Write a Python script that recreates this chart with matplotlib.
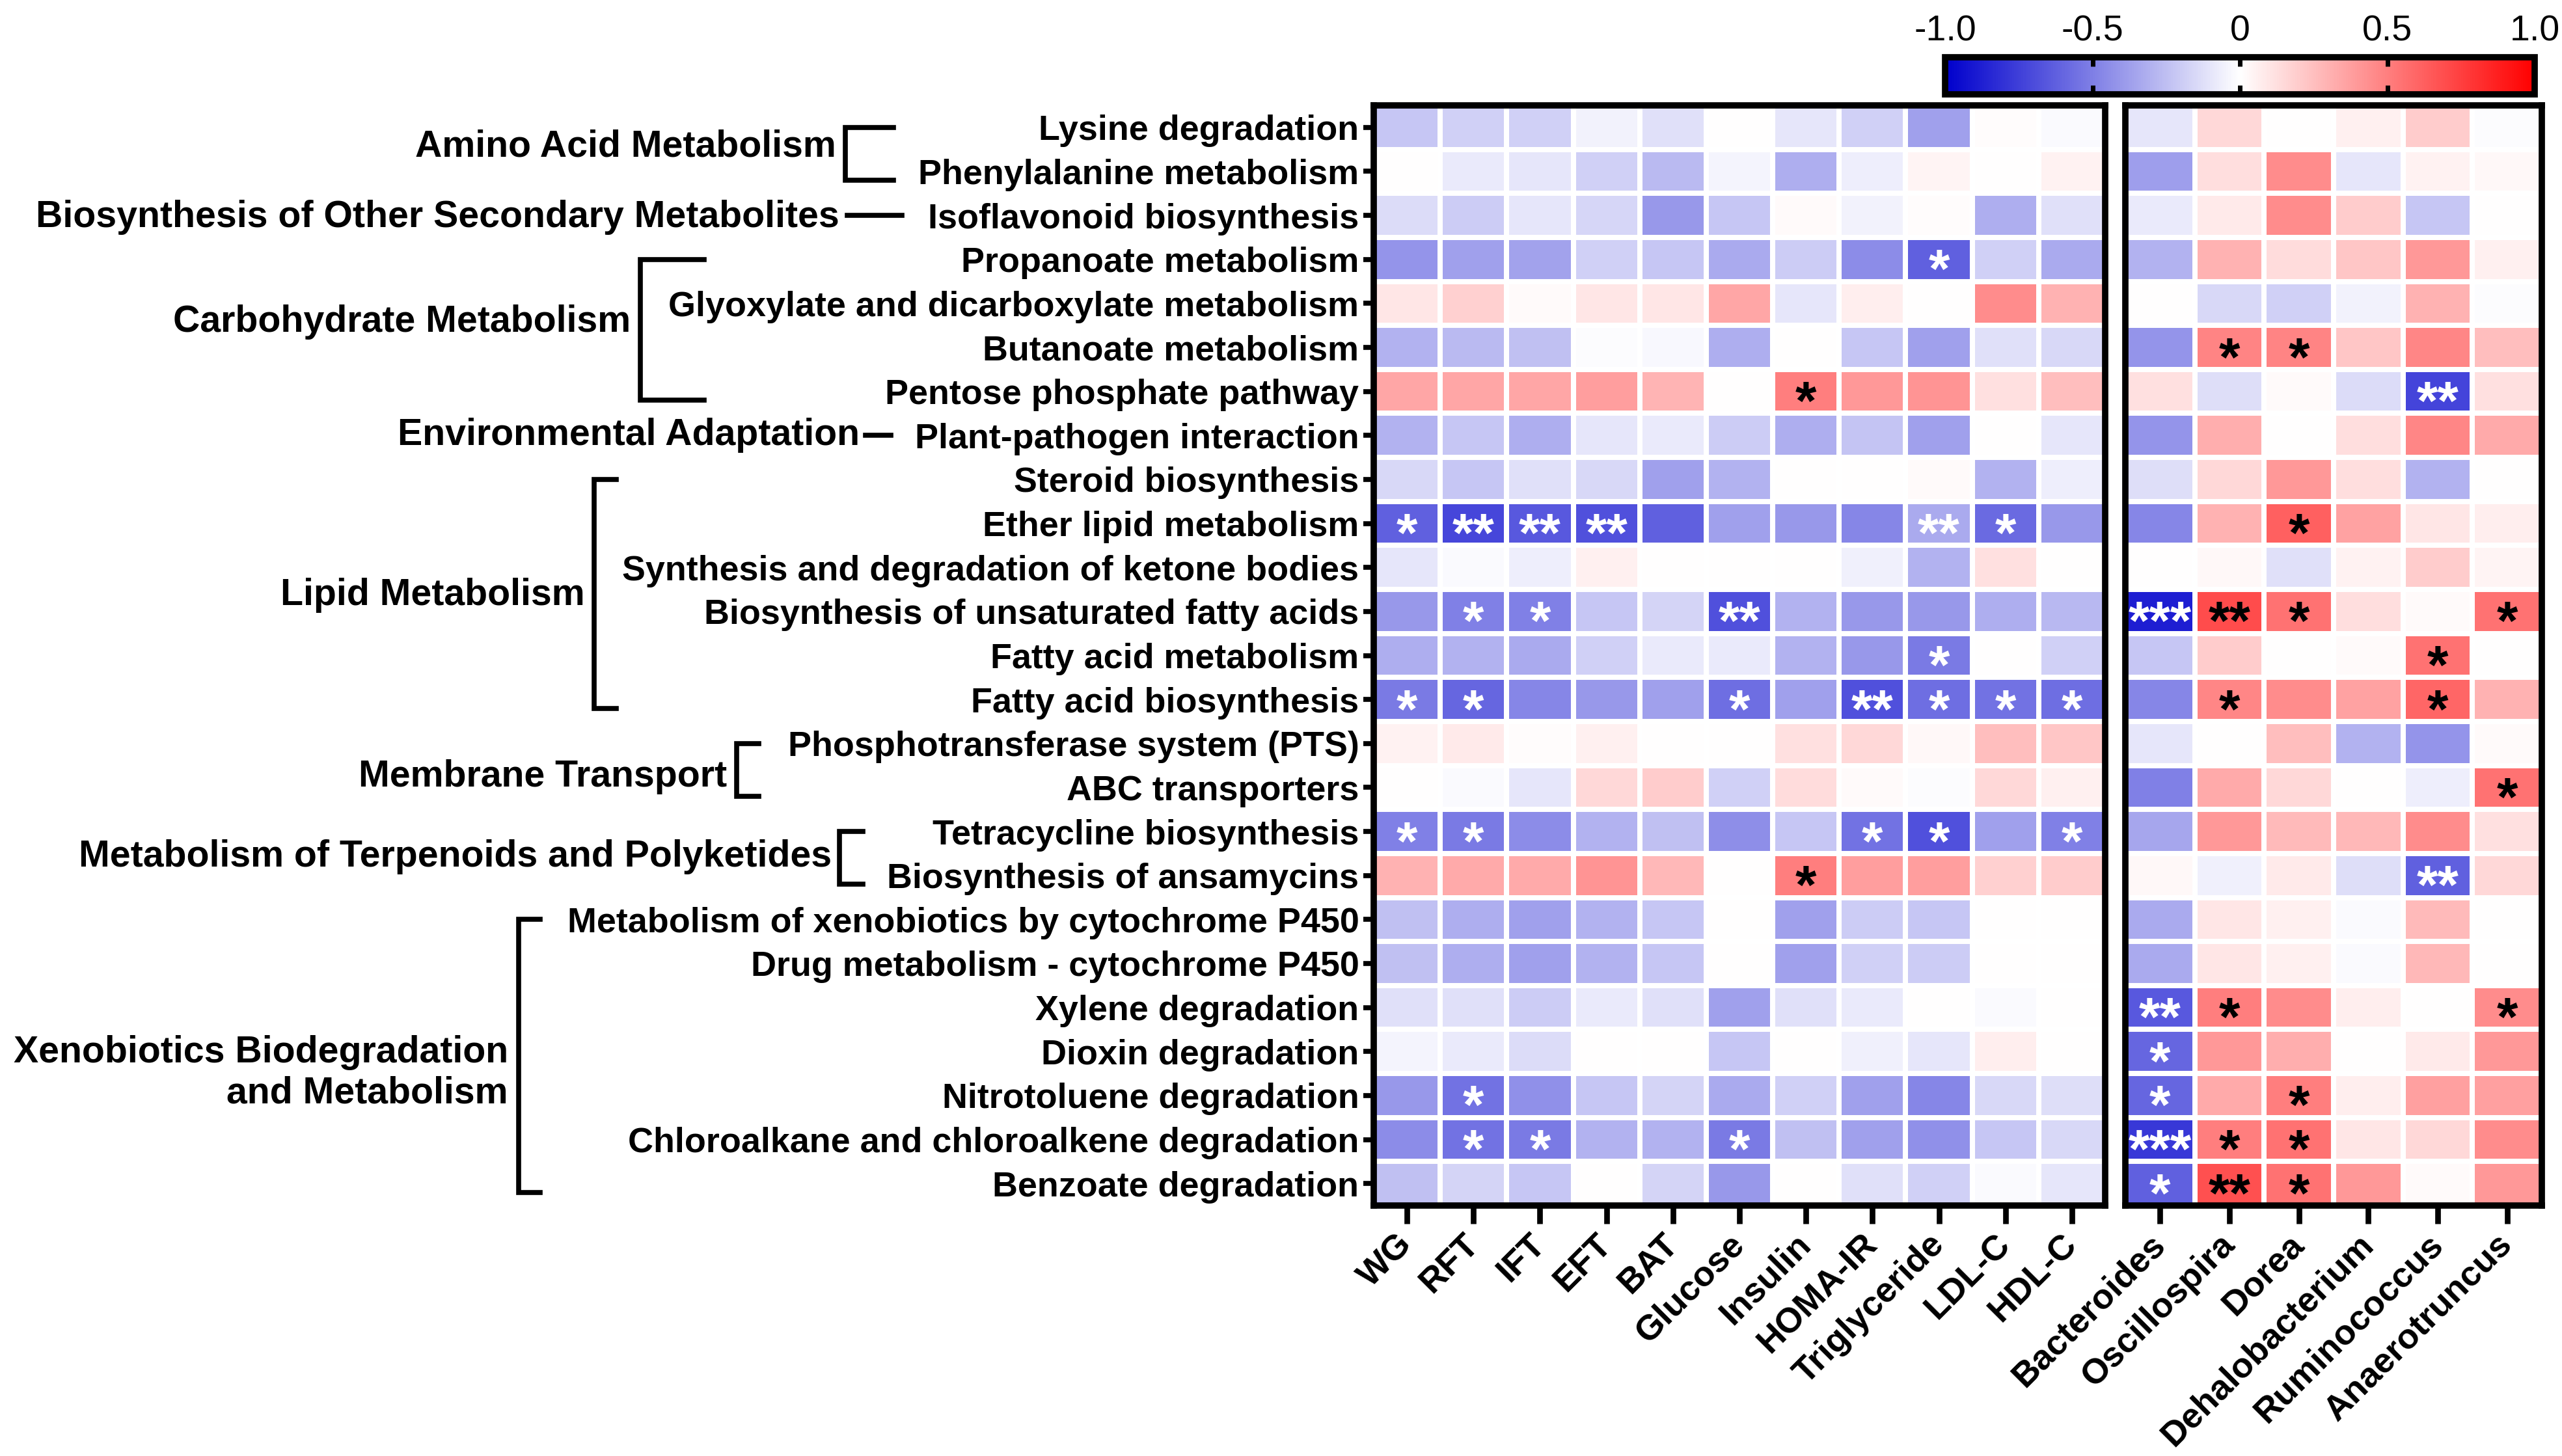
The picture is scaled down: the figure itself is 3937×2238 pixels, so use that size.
import matplotlib
matplotlib.use("Agg")
import matplotlib.pyplot as plt
import numpy as np
from matplotlib.colors import LinearSegmentedColormap
from matplotlib.lines import Line2D

plt.rcParams["font.family"] = ["Liberation Sans", "DejaVu Sans"]
plt.rcParams["font.weight"] = "bold"

# ---- data -------------------------------------------------------------
pathways = [
    "Lysine degradation", "Phenylalanine metabolism", "Isoflavonoid biosynthesis",
    "Propanoate metabolism", "Glyoxylate and dicarboxylate metabolism",
    "Butanoate metabolism", "Pentose phosphate pathway", "Plant-pathogen interaction",
    "Steroid biosynthesis", "Ether lipid metabolism",
    "Synthesis and degradation of ketone bodies",
    "Biosynthesis of unsaturated fatty acids", "Fatty acid metabolism",
    "Fatty acid biosynthesis", "Phosphotransferase system (PTS)", "ABC transporters",
    "Tetracycline biosynthesis", "Biosynthesis of ansamycins",
    "Metabolism of xenobiotics by cytochrome P450",
    "Drug metabolism - cytochrome P450", "Xylene degradation", "Dioxin degradation",
    "Nitrotoluene degradation", "Chloroalkane and chloroalkene degradation",
    "Benzoate degradation",
]

clinical = ["WG", "RFT", "IFT", "EFT", "BAT", "Glucose", "Insulin", "HOMA-IR",
            "Triglyceride", "LDL-C", "HDL-C"]
genera = ["Bacteroides", "Oscillospira", "Dorea", "Dehalobacterium",
          "Ruminococcus", "Anaerotruncus"]

# (category, first row, last row)
groups = [
    ("Amino Acid Metabolism", 0, 1),
    ("Biosynthesis of Other Secondary Metabolites", 2, 2),
    ("Carbohydrate Metabolism", 3, 6),
    ("Environmental Adaptation", 7, 7),
    ("Lipid Metabolism", 8, 13),
    ("Membrane Transport", 14, 15),
    ("Metabolism of Terpenoids and Polyketides", 16, 17),
    ("Xenobiotics Biodegradation\nand Metabolism", 18, 24),
]

clinical_r = np.array([
    [-0.22, -0.18, -0.18, -0.05, -0.12, 0.00, -0.10, -0.18, -0.37, 0.01, -0.02],
    [0.00, -0.08, -0.10, -0.18, -0.27, -0.04, -0.32, -0.07, 0.04, 0.00, 0.05],
    [-0.14, -0.20, -0.10, -0.16, -0.40, -0.22, 0.02, -0.05, 0.01, -0.32, -0.12],
    [-0.42, -0.37, -0.36, -0.18, -0.22, -0.33, -0.20, -0.45, -0.62, -0.18, -0.33],
    [0.10, 0.18, 0.02, 0.10, 0.10, 0.35, -0.10, 0.07, 0.00, 0.45, 0.30],
    [-0.30, -0.27, -0.25, -0.01, -0.03, -0.32, 0.00, -0.22, -0.37, -0.12, -0.15],
    [0.35, 0.35, 0.35, 0.38, 0.29, 0.00, 0.50, 0.40, 0.42, 0.12, 0.25],
    [-0.30, -0.22, -0.32, -0.10, -0.08, -0.20, -0.32, -0.23, -0.37, 0.00, -0.10],
    [-0.15, -0.22, -0.12, -0.15, -0.37, -0.30, 0.00, 0.00, 0.02, -0.30, -0.07],
    [-0.62, -0.72, -0.65, -0.68, -0.62, -0.37, -0.40, -0.47, -0.33, -0.58, -0.40],
    [-0.10, -0.02, -0.07, 0.06, 0.00, 0.00, 0.00, -0.06, -0.30, 0.12, 0.00],
    [-0.40, -0.50, -0.50, -0.22, -0.17, -0.68, -0.30, -0.40, -0.40, -0.32, -0.28],
    [-0.32, -0.30, -0.33, -0.18, -0.08, -0.08, -0.30, -0.40, -0.52, 0.00, -0.18],
    [-0.52, -0.60, -0.47, -0.40, -0.37, -0.57, -0.37, -0.68, -0.57, -0.55, -0.57],
    [0.05, 0.08, 0.01, 0.06, 0.00, 0.00, 0.12, 0.15, 0.03, 0.25, 0.22],
    [0.00, -0.02, -0.10, 0.15, 0.20, -0.18, 0.14, 0.02, -0.01, 0.15, 0.06],
    [-0.50, -0.52, -0.45, -0.30, -0.25, -0.44, -0.22, -0.55, -0.68, -0.37, -0.50],
    [0.30, 0.33, 0.33, 0.42, 0.28, 0.00, 0.50, 0.38, 0.38, 0.18, 0.20],
    [-0.25, -0.32, -0.37, -0.30, -0.22, 0.00, -0.37, -0.20, -0.22, 0.00, 0.00],
    [-0.25, -0.32, -0.37, -0.30, -0.22, 0.00, -0.37, -0.18, -0.20, 0.00, 0.00],
    [-0.12, -0.12, -0.20, -0.08, -0.12, -0.37, -0.12, -0.08, 0.00, -0.02, 0.00],
    [-0.04, -0.08, -0.14, 0.00, 0.00, -0.22, 0.00, -0.06, -0.10, 0.07, 0.00],
    [-0.40, -0.55, -0.43, -0.22, -0.17, -0.33, -0.18, -0.37, -0.47, -0.15, -0.13],
    [-0.45, -0.55, -0.52, -0.30, -0.30, -0.52, -0.25, -0.37, -0.43, -0.22, -0.15],
    [-0.25, -0.17, -0.22, 0.00, -0.17, -0.40, 0.00, -0.12, -0.18, -0.02, -0.10],
])

genera_r = np.array([
    [-0.10, 0.15, 0.00, 0.06, 0.20, -0.01],
    [-0.38, 0.13, 0.45, -0.10, 0.05, 0.03],
    [-0.08, 0.08, 0.45, 0.20, -0.22, 0.00],
    [-0.30, 0.30, 0.14, 0.22, 0.40, 0.06],
    [0.00, -0.15, -0.18, -0.05, 0.30, -0.01],
    [-0.42, 0.48, 0.48, 0.22, 0.47, 0.25],
    [0.12, -0.13, 0.02, -0.14, -0.73, 0.12],
    [-0.42, 0.32, 0.00, 0.13, 0.47, 0.33],
    [-0.13, 0.15, 0.40, 0.13, -0.30, 0.00],
    [-0.47, 0.30, 0.62, 0.36, 0.10, 0.07],
    [0.00, 0.03, -0.12, 0.05, 0.20, 0.04],
    [-0.88, 0.70, 0.55, 0.13, 0.02, 0.55],
    [-0.22, 0.20, 0.00, 0.02, 0.55, 0.00],
    [-0.47, 0.47, 0.45, 0.36, 0.60, 0.30],
    [-0.10, 0.00, 0.25, -0.30, -0.42, 0.02],
    [-0.50, 0.33, 0.15, 0.00, -0.07, 0.55],
    [-0.35, 0.40, 0.27, 0.28, 0.45, 0.12],
    [0.03, -0.06, 0.08, -0.13, -0.62, 0.15],
    [-0.33, 0.10, 0.06, -0.02, 0.27, 0.00],
    [-0.33, 0.10, 0.06, -0.02, 0.28, 0.00],
    [-0.65, 0.50, 0.45, 0.07, 0.00, 0.45],
    [-0.60, 0.40, 0.32, 0.00, 0.08, 0.40],
    [-0.60, 0.33, 0.50, 0.07, 0.37, 0.37],
    [-0.78, 0.50, 0.55, 0.10, 0.15, 0.45],
    [-0.62, 0.68, 0.55, 0.40, 0.02, 0.40],
])

# (row, column, mark)
clinical_sig = [
    (3, 8, "*"), (6, 6, "*"),
    (9, 0, "*"), (9, 1, "**"), (9, 2, "**"), (9, 3, "**"), (9, 8, "**"), (9, 9, "*"),
    (11, 1, "*"), (11, 2, "*"), (11, 5, "**"), (12, 8, "*"),
    (13, 0, "*"), (13, 1, "*"), (13, 5, "*"), (13, 7, "**"), (13, 8, "*"),
    (13, 9, "*"), (13, 10, "*"),
    (16, 0, "*"), (16, 1, "*"), (16, 7, "*"), (16, 8, "*"), (16, 10, "*"),
    (17, 6, "*"), (22, 1, "*"), (23, 1, "*"), (23, 2, "*"), (23, 5, "*"),
]
genera_sig = [
    (5, 1, "*"), (5, 2, "*"), (6, 4, "**"), (9, 2, "*"),
    (11, 0, "***"), (11, 1, "**"), (11, 2, "*"), (11, 5, "*"),
    (12, 4, "*"), (13, 1, "*"), (13, 4, "*"), (15, 5, "*"), (17, 4, "**"),
    (20, 0, "**"), (20, 1, "*"), (20, 5, "*"), (21, 0, "*"),
    (22, 0, "*"), (22, 2, "*"), (23, 0, "***"), (23, 1, "*"), (23, 2, "*"),
    (24, 0, "*"), (24, 1, "**"), (24, 2, "*"),
]

# ---- layout (pixels of the 3937 x 2238 canvas) -------------------------
W, H = 3937, 2238
DPI = 250
# bracket x, arm end x, label right edge x, label row position, for each group
bracket_px = [
    (1299, 1373, 1285, 0.44),
    (1302, 1386, 1290, 2.05),
    (984, 1082, 969, 4.42),
    (1330, 1369, 1321, 7.0),
    (913, 947, 899, 10.63),
    (1132, 1166, 1117, 14.76),
    (1290, 1326, 1278, 16.58),
    (797, 830, 781, 21.49),
]

cmap = LinearSegmentedColormap.from_list("bwr_gp", ["#0000CC", "#FFFFFF", "#FF0000"])

fig = plt.figure(figsize=(W / DPI, H / DPI), dpi=DPI)
ax_l = fig.add_axes([2111 / W, 1 - 1853 / H, 1124 / W, 1691 / H])
ax_r = fig.add_axes([3266 / W, 1 - 1853 / H, 640 / W, 1691 / H])
n_rows = len(pathways)


def draw_heat(ax, vals, sig, cols):
    mesh = ax.pcolormesh(vals, cmap=cmap, vmin=-1, vmax=1,
                         edgecolors="white", linewidth=1.8)
    ax.set_xlim(0, vals.shape[1])
    ax.set_ylim(n_rows, 0)
    for r, c, mark in sig:
        ax.annotate(mark, (c + 0.5, r + 0.5), xytext=(0, -12.5),
                    textcoords="offset points", ha="center", va="baseline",
                    fontsize=24, fontweight="bold",
                    color="white" if vals[r, c] < 0 else "black")
    ax.set_xticks(np.arange(len(cols)) + 0.5)
    ax.set_xticklabels(cols, rotation=45, ha="right", va="center",
                       rotation_mode="anchor", fontsize=15.5)
    ax.tick_params(axis="x", length=8, width=2.5, pad=7)
    for s in ax.spines.values():
        s.set_linewidth(2.8)
    return mesh


mesh = draw_heat(ax_l, clinical_r, clinical_sig, clinical)
draw_heat(ax_r, genera_r, genera_sig, genera)

ax_l.set_yticks(np.arange(n_rows) + 0.5)
ax_l.set_yticklabels(pathways, fontsize=15.5)
ax_l.tick_params(axis="y", length=4.5, width=2.2, pad=2)
ax_r.set_yticks([])

# ---- category brackets -------------------------------------------------
bot, top = 1 - 1853 / H, 1 - 162 / H


def row_y(r):
    return top - (top - bot) * (r + 0.5) / n_rows


for (name, r0, r1), (bx, ax_end, lx, lrow) in zip(groups, bracket_px):
    if r0 == r1:
        y = row_y(r0)
        fig.add_artist(Line2D([bx / W, ax_end / W], [y, y], color="black",
                              lw=2.2, transform=fig.transFigure))
    else:
        y0 = row_y(r0)
        y1 = row_y(r1 + 0.2)
        fig.add_artist(Line2D([ax_end / W, bx / W, bx / W, ax_end / W],
                              [y0, y0, y1, y1], color="black", lw=2.2,
                              solid_joinstyle="miter", transform=fig.transFigure))
    fig.text(lx / W, row_y(lrow), name, ha="right", va="center", fontsize=16.5,
             fontweight="bold", linespacing=1.2)

# ---- colour bar ---------------------------------------------------------
cax = fig.add_axes([2989 / W, 1 - 145 / H, 906 / W, 57 / H])
cb = fig.colorbar(mesh, cax=cax, orientation="horizontal")
cb.set_ticks([-1, -0.5, 0, 0.5, 1])
cb.set_ticklabels(["-1.0", "-0.5", "0", "0.5", "1.0"])
cax.tick_params(which="both", top=True, bottom=True, labeltop=True,
                labelbottom=False, direction="in", length=4, width=2,
                labelsize=16, pad=4)
for lbl in cax.get_xticklabels():
    lbl.set_fontweight("normal")
cb.outline.set_linewidth(2.8)

fig.savefig("out.png", dpi=DPI)
